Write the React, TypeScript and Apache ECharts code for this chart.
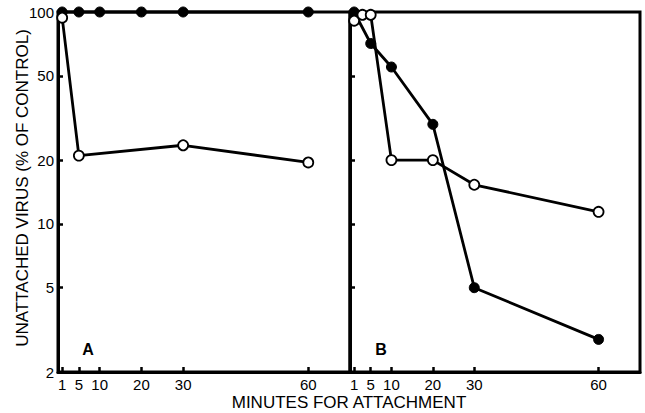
import React, { useEffect, useRef } from "react";
import * as echarts from "echarts";

const xTicks = [1, 5, 10, 20, 30, 60];
const yTicks = [2, 5, 10, 20, 50, 100];

const aFilledX = [1, 5, 10, 20, 30, 60];
const aFilledY = [100, 100, 100, 100, 100, 100];
const aOpenX = [1, 5, 30, 60];
const aOpenY = [94, 21, 23.5, 19.5];

const bFilledX = [1, 5, 10, 20, 30, 60];
const bFilledY = [100, 71, 55, 29.5, 5, 2.85];
const bOpenX = [1, 3, 5, 10, 20, 30, 60];
const bOpenY = [91, 97, 97, 20, 20, 15.3, 11.4];

const FONT = "'Liberation Sans', Arial, Helvetica, sans-serif";

function pairs(xs: number[], ys: number[]) {
  return xs.map((x, i) => [x, ys[i]]);
}

export default function App() {
  const ref = useRef<HTMLDivElement>(null);
  useEffect(() => {
    if (!ref.current) return;
    const chart = echarts.init(ref.current, null, { renderer: "svg" });
    const xAxisBase = (gridIndex: number) => ({
      type: "value" as const,
      gridIndex,
      min: 0,
      max: 70,
      axisLine: { show: true, lineStyle: { color: "#000", width: 3 } },
      axisTick: { show: true, inside: true, length: 5, lineStyle: { color: "#000", width: 2.5 }, customValues: xTicks },
      axisLabel: { show: true, color: "#000", fontSize: 15, fontFamily: FONT, margin: 5, customValues: xTicks },
      splitLine: { show: false },
    });
    const yAxisBase = (gridIndex: number, labels: boolean) => ({
      type: "log" as const,
      logBase: 10,
      gridIndex,
      min: 2,
      max: 100,
      axisLine: { show: true, lineStyle: { color: "#000", width: 3 } },
      axisTick: { show: true, inside: true, length: 5, lineStyle: { color: "#000", width: 2.5 }, customValues: yTicks },
      axisLabel: { show: labels, color: "#000", fontSize: 15, fontFamily: FONT, margin: 4, customValues: yTicks },
      splitLine: { show: false },
      minorTick: { show: false },
    });
    const lineStyle = { color: "#000", width: 2.8 };
    const filled = { color: "#000", borderColor: "#000", borderWidth: 1 };
    const open = { color: "#fff", borderColor: "#000", borderWidth: 1.8 };
    chart.setOption({
      animation: false,
      backgroundColor: "#fff",
      grid: [
        { left: 58, top: 12, width: 292, height: 360, show: true, borderColor: "#000", borderWidth: 3, backgroundColor: "transparent" },
        { left: 350, top: 12, width: 290, height: 360, show: true, borderColor: "#000", borderWidth: 3, backgroundColor: "transparent" },
      ],
      xAxis: [xAxisBase(0), xAxisBase(1)],
      yAxis: [yAxisBase(0, true), yAxisBase(1, false)],
      series: [
        { type: "line", xAxisIndex: 0, yAxisIndex: 0, data: pairs(aFilledX, aFilledY), symbol: "circle", symbolSize: 10, lineStyle, itemStyle: filled, clip: false, z: 3 },
        { type: "line", xAxisIndex: 0, yAxisIndex: 0, data: pairs(aOpenX, aOpenY), symbol: "circle", symbolSize: 10, lineStyle, itemStyle: open, clip: false, z: 4 },
        { type: "line", xAxisIndex: 1, yAxisIndex: 1, data: pairs(bFilledX, bFilledY), symbol: "circle", symbolSize: 10, lineStyle, itemStyle: filled, clip: false, z: 3 },
        { type: "line", xAxisIndex: 1, yAxisIndex: 1, data: pairs(bOpenX, bOpenY), symbol: "circle", symbolSize: 10, lineStyle, itemStyle: open, clip: false, z: 4 },
      ],
      graphic: [
        { type: "text", x: 22, y: 188, rotation: Math.PI / 2, style: { text: "UNATTACHED VIRUS (% OF CONTROL)", fill: "#000", font: `17px ${FONT}`, textAlign: "center", textVerticalAlign: "middle" } },
        { type: "text", x: 349, y: 402, style: { text: "MINUTES FOR ATTACHMENT", fill: "#000", font: `17px ${FONT}`, textAlign: "center", textVerticalAlign: "middle" } },
        { type: "text", x: 88, y: 349, style: { text: "A", fill: "#000", font: `bold 16px ${FONT}`, textAlign: "center", textVerticalAlign: "middle" } },
        { type: "text", x: 381, y: 349, style: { text: "B", fill: "#000", font: `bold 16px ${FONT}`, textAlign: "center", textVerticalAlign: "middle" } },
      ],
    });
    return () => chart.dispose();
  }, []);
  return <div ref={ref} style={{ width: 645, height: 413, position: "absolute", left: 0, top: 0 }} />;
}
